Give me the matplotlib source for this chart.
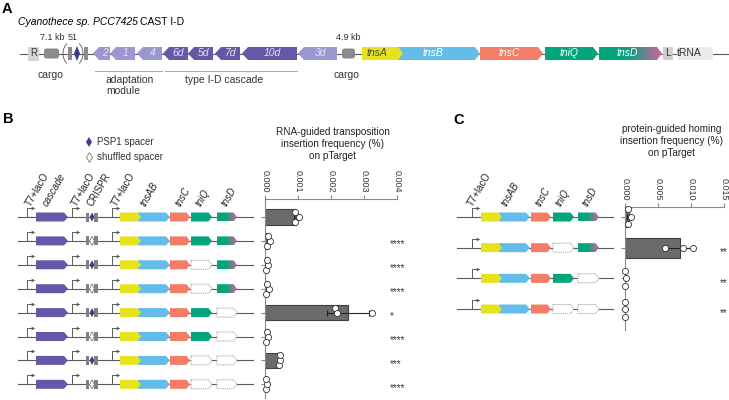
import numpy as np
import matplotlib
matplotlib.use("Agg")
import matplotlib.pyplot as plt
import matplotlib.transforms as mtransforms
from matplotlib.patches import Polygon, Rectangle, FancyBboxPatch, Arc

plt.rcParams["font.family"] = ["Liberation Sans", "DejaVu Sans"]

# ======= Panel B data: RNA-guided transposition (% insertion on pTarget) =======
b_spacer = ["PSP1", "shuffled", "PSP1", "shuffled", "PSP1", "shuffled", "PSP1", "shuffled"]
b_tniq = [True, True, False, False, True, True, False, False]
b_tnsd = [True, True, True, True, False, False, False, False]
b_reps = [
    [0.00090, 0.00104, 0.00092],
    [0.00006, 0.00016, 0.00008],
    [0.00002, 0.00010, 0.00005],
    [0.00004, 0.00012, 0.00005],
    [0.00211, 0.00324, 0.00218],
    [0.00005, 0.00008, 0.00004],
    [0.00043, 0.00045, 0.00044],
    [0.00003, 0.00005, 0.00003],
]
b_stars = ["", "****", "****", "****", "*", "****", "***", "****"]
b_ticks = [0, 0.001, 0.002, 0.003, 0.004]
b_ticklabels = ["0.000", "0.001", "0.002", "0.003", "0.004"]

# ======= Panel C data: protein-guided homing =======
c_tniq = [True, False, True, False]
c_tnsd = [True, True, False, False]
c_reps = [
    [0.0004, 0.0009, 0.0005],
    [0.00606, 0.00874, 0.01026],
    [0.0, 0.0001, 0.0],
    [0.0, 0.00005, 0.0],
]
c_stars = ["", "**", "**", "**"]
c_ticks = [0, 0.005, 0.010, 0.015]
c_ticklabels = ["0.000", "0.005", "0.010", "0.015"]

# ======= colours =======
PURPLE_L = "#9d97cf"
PURPLE_D = "#6359a8"
YELLOW = "#e6e31e"
BLUE = "#64bde9"
SALMON = "#f47d68"
GREEN = "#03a57c"
PINK = "#d3619f"
LINE = "#5a5a5a"
NAVY = "#3b3a94"
BOXGRAY = "#8c8c8c"

W, H = 729, 400
fig = plt.figure(figsize=(W / 100, H / 100), dpi=100)
ov = fig.add_axes([0, 0, 1, 1])
ov.set_axis_off()
ov.set_xlim(0, W)
ov.set_ylim(H, 0)

# green -> pink gradient used for tnsD
t = np.linspace(0, 1, 120)
w = np.clip((t - 0.45) / 0.55, 0, 1)
g = np.array(matplotlib.colors.to_rgb(GREEN))
p = np.array(matplotlib.colors.to_rgb(PINK))
grad_img = (g[None, :] * (1 - w[:, None]) + p[None, :] * w[:, None])[None, :, :]


def gene(x0, x1, y, h, color, head, left=False, dashed=False, grad=False, z=3):
    if left:
        pts = [(x1, y - h / 2), (x0 + head, y - h / 2), (x0, y), (x0 + head, y + h / 2), (x1, y + h / 2)]
    else:
        pts = [(x0, y - h / 2), (x1 - head, y - h / 2), (x1, y), (x1 - head, y + h / 2), (x0, y + h / 2)]
    if dashed:
        ov.add_patch(Polygon(pts, closed=True, fc="white", ec="#9a9a9a", lw=0.6,
                             ls=(0, (1.5, 1)), zorder=z))
    elif grad:
        poly = Polygon(pts, closed=True, fc="none", ec="none", zorder=z)
        ov.add_patch(poly)
        im = ov.imshow(grad_img, extent=(x0, x1, y + h / 2, y - h / 2), aspect="auto",
                       interpolation="bilinear", zorder=z)
        im.set_clip_path(poly)
    else:
        ov.add_patch(Polygon(pts, closed=True, fc=color, ec="none", zorder=z))


def promoter(x, y):
    ov.plot([x, x, x + 5.5], [y, y - 9, y - 9], color=LINE, lw=0.7, zorder=2)
    ov.plot([x + 6.3], [y - 9], marker=">", ms=2.6, color=LINE, mew=0, zorder=2)


def crispr(x, y, filled):
    ov.add_patch(Rectangle((x, y - 4.5), 3.4, 9, fc="#808080", ec="none", zorder=3))
    ov.add_patch(Rectangle((x + 8.3, y - 4.5), 3.4, 9, fc="#808080", ec="none", zorder=3))
    cx = x + 6
    dia = [(cx - 2.3, y), (cx, y - 4.6), (cx + 2.3, y), (cx, y + 4.6)]
    if filled:
        ov.add_patch(Polygon(dia, closed=True, fc=NAVY, ec="none", zorder=4))
    else:
        ov.add_patch(Polygon(dia, closed=True, fc="white", ec="#808080", lw=0.6, zorder=4))


# ======= Panel A =======
ov.text(2, 9, "A", fontsize=10.5, fontweight="bold", va="center")
t1 = ov.text(18, 22, "Cyanothece sp. PCC7425", fontsize=7.5, style="italic", va="center")
renderer = fig.canvas.get_renderer()
bb = t1.get_window_extent(renderer)
ov.text(bb.x1 + 2.5, 22, "CAST I-D", fontsize=7.5, va="center")

ya, ha = 53.5, 13
ov.plot([20, 728], [ya, ya], color=LINE, lw=0.8, zorder=1)
ov.add_patch(Rectangle((28, ya - 7), 11.5, 14, fc="#d6d6d6", ec="none", zorder=3))
ov.text(33.8, ya, "R", fontsize=7, ha="center", va="center", color="#333", zorder=4)
ov.add_patch(FancyBboxPatch((44, ya - 5), 15, 10, boxstyle="round,pad=0,rounding_size=2.5",
                            fc=BOXGRAY, ec="none", zorder=3))
ov.add_patch(Arc((74, ya), 22, 26, theta1=125, theta2=235, color=LINE, lw=0.6, zorder=3))
ov.add_patch(Arc((72, ya), 22, 26, theta1=-55, theta2=55, color=LINE, lw=0.6, zorder=3))
ov.add_patch(Rectangle((68, ya - 6.5), 4, 13, fc=BOXGRAY, ec="none", zorder=3))
ov.add_patch(Polygon([(74, ya), (77, ya - 7.5), (80, ya), (77, ya + 7.5)], closed=True,
                     fc=NAVY, ec="none", zorder=4))
ov.add_patch(Rectangle((84, ya - 6.5), 4, 13, fc=BOXGRAY, ec="none", zorder=3))
ov.text(52, 38, "7.1 kb", fontsize=6.5, ha="center", va="center", color="#333")
ov.text(73, 38, "51", fontsize=6.5, ha="center", va="center", color="#333")

a_left = [(93, 110, "2", PURPLE_L), (110, 135, "1", PURPLE_L), (137, 162, "4", PURPLE_L),
          (163, 188, "6d", PURPLE_D), (188, 213, "5d", PURPLE_D), (215, 240, "7d", PURPLE_D),
          (242, 297, "10d", PURPLE_D), (298, 337, "3d", PURPLE_L)]
for x0, x1, lab, col in a_left:
    gene(x0, x1, ya, ha, col, 6, left=True)
    ov.text((x0 + 6 + x1) / 2, ya, lab, fontsize=7.5, style="italic", color="#e4e2f4",
            ha="center", va="center", zorder=5)

ov.add_patch(FancyBboxPatch((342, ya - 5), 13, 10, boxstyle="round,pad=0,rounding_size=2.5",
                            fc=BOXGRAY, ec="none", zorder=3))
ov.text(348, 38, "4.9 kb", fontsize=6.5, ha="center", va="center", color="#333")

gene(397, 480, ya, ha, BLUE, 5)
gene(362, 403, ya, ha, YELLOW, 5, z=4)
gene(480, 543, ya, ha, SALMON, 5)
gene(545, 598, ya, ha, GREEN, 5)
gene(599, 662, ya, ha, GREEN, 5, grad=True)
for xc, lab, col in [(377, "tnsA", "#4a4a30"), (433, "tnsB", "white"), (509, "tnsC", "white"),
                     (569, "tniQ", "white"), (627, "tnsD", "white")]:
    ov.text(xc, ya, lab, fontsize=7.5, style="italic", color=col, ha="center", va="center", zorder=5)
ov.add_patch(Rectangle((663, ya - 6.5), 10, 13, fc="#cfcfcf", ec="none", zorder=3))
ov.text(668, ya, "L", fontsize=7.5, ha="center", va="center", color="#333", zorder=4)
ov.add_patch(FancyBboxPatch((677, ya - 6.5), 36, 13, boxstyle="round,pad=0,rounding_size=4",
                            fc="#ebebeb", ec="none", zorder=3))
ov.text(689, ya, "tRNA", fontsize=7.5, ha="center", va="center", color="#333", zorder=4)

ov.plot([95, 162], [71, 71], color="#aaaaaa", lw=0.7)
ov.plot([165, 297], [71, 71], color="#aaaaaa", lw=0.7)
ov.text(50, 75, "cargo", fontsize=7.5, ha="center", va="center", color="#333")
ov.text(346, 75, "cargo", fontsize=7.5, ha="center", va="center", color="#333")
ov.text(106, 75, "adaptation\nmodule", fontsize=7.5, ha="left", va="top", color="#333",
        linespacing=1.15)
ov.text(185, 75, "type I-D cascade", fontsize=7.5, ha="left", va="top", color="#333")

# ======= Panel B: constructs =======
GH = 9
B_Y0, B_STEP = 217, 23.9
ov.text(3, 119, "B", fontsize=10.5, fontweight="bold", va="center")
ov.plot([89], [142], marker="d", ms=5, color=NAVY, mew=0)
ov.text(97, 142, "PSP1 spacer", fontsize=7, va="center", color="#333")
ov.plot([89], [157], marker="d", ms=5, mfc="white", mec="#777", mew=0.6)
ov.text(97, 157, "shuffled spacer", fontsize=7, va="center", color="#333")

for x, lab, it in [(33, "T7+lacO", False), (49, "cascade", True), (79, "T7+lacO", False),
                   (94, "CRISPR", False), (119, "T7+lacO", False), (147, "tnsAB", True),
                   (182, "tnsC", True), (203, "tniQ", True), (228, "tnsD", True)]:
    ov.text(x, 208, lab, fontsize=7, rotation=60, rotation_mode="anchor", ha="left",
            va="bottom", style="italic" if it else "normal", color="#222")

for i in range(len(b_reps)):
    y = B_Y0 + i * B_STEP
    ov.plot([18, 253], [y, y], color=LINE, lw=0.8, zorder=1)
    for x in (27, 72, 112):
        promoter(x, y)
    gene(36, 68, y, GH, PURPLE_D, 4)
    crispr(86, y, b_spacer[i] == "PSP1")
    gene(138, 170, y, GH, BLUE, 4)
    gene(120, 141, y, GH, YELLOW, 4, z=4)
    gene(170, 190, y, GH, SALMON, 3.5)
    gene(191, 212, y, GH, GREEN, 3.5, dashed=not b_tniq[i])
    gene(217, 237, y, GH, GREEN, 3.5, dashed=not b_tnsd[i], grad=b_tnsd[i])

# ======= Panel C: constructs =======
C_Y0, C_STEP = 217, 30.67
ov.text(453, 120, "C", fontsize=10.5, fontweight="bold", va="center")
for x, lab, it in [(475, "T7+lacO", False), (508, "tnsAB", True), (542, "tnsC", True),
                   (563, "tniQ", True), (589, "tnsD", True)]:
    ov.text(x, 208, lab, fontsize=7, rotation=60, rotation_mode="anchor", ha="left",
            va="bottom", style="italic" if it else "normal", color="#222")
for i in range(len(c_reps)):
    y = C_Y0 + i * C_STEP
    ov.plot([457, 613], [y, y], color=LINE, lw=0.8, zorder=1)
    promoter(472, y)
    gene(499, 530, y, GH, BLUE, 4)
    gene(481, 502, y, GH, YELLOW, 4, z=4)
    gene(531, 551, y, GH, SALMON, 3.5)
    gene(553, 574, y, GH, GREEN, 3.5, dashed=not c_tniq[i])
    gene(578, 599, y, GH, GREEN, 3.5, dashed=not c_tnsd[i], grad=c_tnsd[i])

ov.text(333, 144, "RNA-guided transposition\ninsertion frequency (%)\non pTarget",
        fontsize=7.2, ha="center", va="center", color="#222", linespacing=1.25)
ov.text(672, 141, "protein-guided homing\ninsertion frequency (%)\non pTarget",
        fontsize=7.2, ha="center", va="center", color="#222", linespacing=1.25)

ov.set_xlim(0, W)
ov.set_ylim(H, 0)


# ======= bar charts =======
def swarm(vals, px_per_unit, diam=6.0):
    order = np.argsort(vals)[::-1]
    placed = []
    slots = np.zeros(len(vals))
    for k in order:
        px = vals[k] * px_per_unit
        for s in (0, -1, 1, -2, 2):
            if all(abs(px - pp) >= diam or s != q for pp, q in placed):
                break
        placed.append((px, s))
        slots[k] = s
    return slots


def bar_panel(left, top, right, bottom, y0, step, reps, stars, ticks, ticklabels, d_px, star_x):
    ax = fig.add_axes([left / W, 1 - bottom / H, (right - left) / W, (bottom - top) / H])
    ax.patch.set_alpha(0)
    n = len(reps)
    ys = np.arange(n)
    means = [np.mean(r) for r in reps]
    sds = [np.std(r, ddof=1) for r in reps]
    ax.barh(ys, means, height=0.66, color="#6b6b6b", edgecolor="#404040", lw=0.8, zorder=2)
    ax.errorbar(means, ys, xerr=sds, fmt="none", ecolor="#222", elinewidth=0.8,
                capsize=2.5, capthick=0.8, zorder=3)
    xmax = ticks[-1]
    px_per_unit = (right - left) / xmax
    for i, r in enumerate(reps):
        slots = swarm(np.array(r), px_per_unit)
        ax.plot(r, i + slots * d_px / step, "o", ms=4.4, mfc="white", mec="#333",
                mew=0.6, ls="none", zorder=4, clip_on=False)
    tr = mtransforms.blended_transform_factory(ax.transAxes, ax.transData)
    for i, s in enumerate(stars):
        if s:
            ax.text(star_x, i + 0.14, s, transform=tr, ha="left", va="center", fontsize=7,
                    color="#333", clip_on=False)
    ax.set_xlim(0, xmax)
    ax.set_ylim((bottom - y0) / step, (top - y0) / step)
    for sp in ("right", "bottom"):
        ax.spines[sp].set_visible(False)
    for sp in ("left", "top"):
        ax.spines[sp].set_color("#8a8a8a")
        ax.spines[sp].set_linewidth(0.8)
    ax.set_xticks(ticks)
    ax.set_xticklabels(ticklabels)
    ax.set_yticks(ys)
    ax.set_yticklabels([])
    ax.tick_params(axis="x", top=True, bottom=False, labeltop=True, labelbottom=False,
                   labelrotation=270, length=3, width=0.8, color="#8a8a8a", labelsize=6.5,
                   pad=1.5, labelcolor="#333")
    ax.tick_params(axis="y", length=3, width=0.8, color="#8a8a8a")
    return ax


bar_panel(265, 199, 397, 398, B_Y0, B_STEP, b_reps, b_stars, b_ticks, b_ticklabels, 5.0, 0.947)
bar_panel(625, 207, 724, 330, C_Y0, C_STEP, c_reps, c_stars, c_ticks, c_ticklabels, 7.5, 0.96)

fig.savefig("out.png", dpi=100)
